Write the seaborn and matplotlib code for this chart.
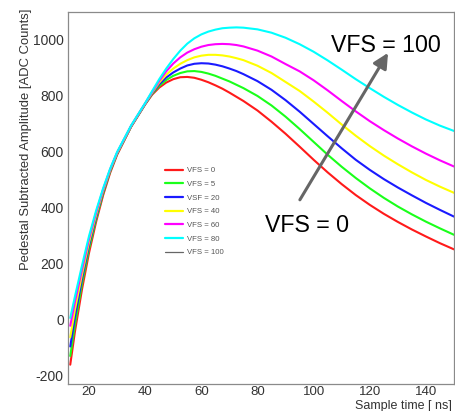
import matplotlib
matplotlib.use("Agg")
import matplotlib.pyplot as plt
from matplotlib.lines import Line2D
from matplotlib.ticker import MultipleLocator
import numpy as np
import pandas as pd
import seaborn as sns

# ---- data ----
time_ns = [13.3, 15, 17.5, 20, 22.5, 25, 27.5, 30, 35, 40,
           42.5, 45, 47.5, 50, 52.5, 55, 57.5, 60, 62.5, 65, 67.5, 70, 72.5, 75,
           80, 85, 90, 95, 100, 105, 110, 115, 120, 125, 130, 135, 140, 145, 150]
vfs_0 = [-160, -40, 110, 240, 350, 445, 525, 590, 690, 770,
         805, 830, 848, 860, 867, 868, 865, 858, 849, 838, 826, 812, 797, 782,
         748, 708, 665, 619, 572, 527, 485, 446, 411, 379, 350, 323, 298, 274, 252]
vfs_5 = [-129, -15, 130, 255, 360, 452, 530, 593, 691, 771,
         808, 836, 857, 872, 882, 888, 889, 886, 880, 872, 862, 852, 840, 828,
         800, 766, 726, 682, 636, 590, 547, 507, 470, 436, 405, 377, 351, 327, 304]
vsf_20 = [-95, 12, 148, 268, 368, 457, 533, 595, 692, 772,
          810, 842, 866, 884, 898, 909, 915, 917, 916, 912, 906, 898, 889, 878,
          853, 822, 785, 744, 700, 656, 613, 572, 536, 503, 473, 445, 418, 393, 369]
vfs_40 = [-62, 38, 163, 278, 375, 461, 535, 596, 693, 773,
          812, 848, 876, 898, 915, 928, 938, 944, 947, 947, 945, 941, 935, 928,
          908, 882, 850, 818, 780, 740, 698, 658, 621, 587, 556, 527, 500, 476, 454]
vfs_60 = [-21, 65, 180, 290, 383, 466, 538, 598, 694, 774,
          815, 854, 888, 916, 938, 955, 967, 976, 982, 985, 986, 985, 982, 977,
          962, 941, 914, 888, 856, 820, 782, 745, 710, 678, 648, 620, 594, 570, 548]
vfs_80 = [7, 85, 195, 300, 390, 470, 540, 600, 695, 775,
          818, 860, 898, 932, 962, 987, 1006, 1020, 1030, 1037, 1042, 1044, 1045, 1044,
          1038, 1026, 1008, 985, 958, 927, 894, 860, 828, 797, 768, 741, 716, 694, 675]

labels = ["VFS = 0", "VFS = 5", "VSF = 20", "VFS = 40", "VFS = 60", "VFS = 80"]
legend_labels = labels + ["VFS = 100"]
colors = ["#ff1a1a", "#1aff1a", "#1a1aff", "#ffff00", "#ff00ff", "#00ffff"]
series = [vfs_0, vfs_5, vsf_20, vfs_40, vfs_60, vfs_80]

df = pd.DataFrame({
    "t": np.tile(time_ns, len(series)),
    "amp": np.concatenate(series),
    "vfs": np.repeat(labels, len(time_ns)),
})

sns.set_style("white")
plt.rcParams["font.family"] = ["Liberation Sans", "DejaVu Sans"]
plt.rcParams["axes.unicode_minus"] = False

fig = plt.figure(figsize=(4.56, 4.11), dpi=100)
ax = fig.add_axes([68 / 456, 1 - 384 / 411, (454 - 68) / 456, (384 - 12) / 411])

sns.lineplot(data=df, x="t", y="amp", hue="vfs", hue_order=labels,
             palette=colors, linewidth=1.5, sort=False, estimator=None,
             legend=False, ax=ax)

ax.set_xlim(12.5, 150)
ax.set_ylim(-229, 1100)
ax.xaxis.set_major_locator(MultipleLocator(20))
ax.xaxis.set_minor_locator(MultipleLocator(5))
ax.yaxis.set_major_locator(MultipleLocator(200))
ax.yaxis.set_minor_locator(MultipleLocator(50))
ax.tick_params(which="both", direction="in", color="#777777",
               labelcolor="#333333", labelsize=10, width=0.9)
ax.tick_params(which="major", length=7.5, pad=3)
ax.tick_params(axis="x", which="major", pad=1.2, labelsize=9.5)
ax.tick_params(which="minor", length=3.8)
for s in ax.spines.values():
    s.set_color("#8a8a8a")
    s.set_linewidth(0.9)

ax.set_xlabel("Sample time [ ns]", loc="right", fontsize=9.0, color="#333333")
ax.xaxis.label.set_verticalalignment("bottom")
ax.xaxis.set_label_coords(0.995, -0.075)
ax.set_ylabel("Pedestal Subtracted Amplitude [ADC Counts]", loc="top",
              fontsize=9.4, color="#333333")
ax.yaxis.set_label_coords(-0.092, 1.01)

handles = [Line2D([], [], color=c, lw=1.6) for c in colors]
handles.append(Line2D([], [], color="#666666", lw=0.9))
leg = ax.legend(handles, legend_labels, loc="upper left",
                bbox_to_anchor=(165 / 456, 1 - 167 / 411),
                bbox_transform=fig.transFigure, frameon=False,
                fontsize=5.6, handlelength=2.3, handletextpad=0.5,
                labelspacing=0.8, borderpad=0, borderaxespad=0)
for t in leg.get_texts():
    t.set_color("#555555")

ax.annotate("", xy=(126.5, 954), xytext=(95.1, 429),
            arrowprops=dict(arrowstyle="-|>,head_length=0.9,head_width=0.45",
                            color="#666666", lw=2.2, shrinkA=0, shrinkB=0))
ax.text(125.8, 982, "VFS = 100", fontsize=16.7, ha="center", va="center", color="black")
ax.text(97.6, 336, "VFS = 0", fontsize=16.7, ha="center", va="center", color="black")

fig.savefig("out.png", dpi=100)
